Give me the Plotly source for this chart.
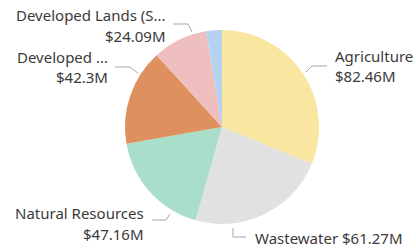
import plotly.graph_objects as go

categories = ["Agriculture", "Wastewater", "Natural Resources", "Developed ...",
              "Developed Lands (S...", "Other"]
values = [82.46, 61.27, 47.16, 42.3, 24.09, 7.0]
value_labels = ["$82.46M", "$61.27M", "$47.16M", "$42.3M", "$24.09M", ""]
colors = ["#F9E6A1", "#E1E1E1", "#A9DECB", "#DE915E", "#EFBEBE", "#B6D2F0"]

W, H = 416, 249
cx, cy, r = 222, 127, 97


def px(x):
    return x / W


def py(y):
    return 1 - y / H


fig = go.Figure(go.Pie(
    labels=categories, values=values, sort=False, direction="clockwise",
    rotation=0, marker=dict(colors=colors, line=dict(width=0)),
    textinfo="none", hoverinfo="label+value", showlegend=False,
    domain=dict(x=[px(cx - r), px(cx + r)], y=[py(cy + r), py(cy - r)]),
))

font = dict(family="Noto Sans, sans-serif", size=15, color="#3b3a39")
line_col = "#a6a6a6"

# label layout: (slice index, text lines, anchor x, y of lines, xanchor, leader path)
layout_specs = [
    (0, [categories[0], value_labels[0]], 333, [56, 76], "left",
     [(306, 72), (312, 66), (327, 66)]),
    (1, [categories[1] + " " + value_labels[1]], 253, [238], "left",
     [(233, 228), (233, 237), (246, 237)]),
    (2, [categories[2], value_labels[2]], 146, [213, 234], "right",
     [(170, 214), (166, 220), (152, 220)]),
    (3, [categories[3], value_labels[3]], 110, [57, 77], "right",
     [(138, 73), (130, 67), (115, 67)]),
    (4, [categories[4], value_labels[4]], 168, [15, 36], "right",
     [(192, 32), (188, 24), (173, 24)]),
]

annotations = []
shapes = []
for idx, lines, ax, ys, xa, path in layout_specs:
    for t, y in zip(lines, ys):
        annotations.append(dict(x=px(ax), y=py(y), xref="paper", yref="paper",
                                text=t, showarrow=False, xanchor=xa,
                                yanchor="middle", font=font))
    d = "M " + " L ".join(f"{px(x)},{py(y)}" for x, y in path)
    shapes.append(dict(type="path", path=d, xref="paper", yref="paper",
                       line=dict(color=line_col, width=1)))

fig.update_layout(width=W, height=H, margin=dict(l=0, r=0, t=0, b=0),
                  paper_bgcolor="white", plot_bgcolor="white",
                  annotations=annotations, shapes=shapes)

fig.write_html("out.html", config={"displayModeBar": False},
               post_script="document.body.style.margin='0';"
                           "document.body.style.overflow='hidden';")
